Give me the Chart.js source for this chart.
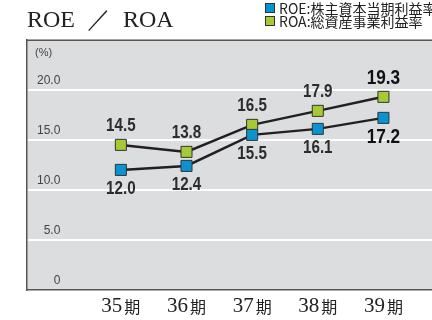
<!DOCTYPE html>
<html><head><meta charset="utf-8">
<script src="https://cdn.jsdelivr.net/npm/chart.js@4/dist/chart.umd.min.js"></script>
<style>html,body{margin:0;padding:0;background:#fff}#wrap{width:432px;height:320px}</style>
</head><body><div id="wrap"><canvas id="c" width="432" height="320"></canvas></div>
<script>
const periods = ['35', '36', '37', '38', '39'];
const periodSuffix = '期';
const roe = [12.0, 12.4, 15.5, 16.1, 17.2];
const roa = [14.5, 13.8, 16.5, 17.9, 19.3];
const seriesNames = ['ROE:株主資本当期利益率', 'ROA:総資産事業利益率'];
const seriesColors = ['#0a93d1', '#a6c936'];
const yTicks = [0, 5, 10, 15, 20];
const yTickLabels = ['0', '5.0', '10.0', '15.0', '20.0'];
const yUnit = '(%)';
const titleText = 'ROE  ／  ROA';

const toPoints = arr => arr.map((v, i) => ({x: i, y: v}));

const decor = {
  id: 'decor',
  beforeDraw(chart) {
    const {ctx, chartArea: a} = chart;
    ctx.save();
    ctx.fillStyle = '#dcdddf';
    ctx.fillRect(a.left, a.top, a.right - a.left, a.bottom - a.top);
    ctx.restore();
  },
  afterDraw(chart) {
    const {ctx, chartArea: a} = chart;
    const xs = chart.scales.x;
    ctx.save();
    // top border
    ctx.strokeStyle = '#555';
    ctx.lineWidth = 1.5;
    ctx.beginPath();
    ctx.moveTo(a.left, a.top + 0.5);
    ctx.lineTo(a.right, a.top + 0.5);
    ctx.stroke();
    // unit
    ctx.fillStyle = '#444';
    ctx.font = '11px "Liberation Sans", Arial, sans-serif';
    ctx.textBaseline = 'middle';
    ctx.textAlign = 'left';
    ctx.fillText(yUnit, a.left + 8, a.top + 13);
    // x labels
    periods.forEach((p, i) => {
      const px = xs.getPixelForValue(i);
      ctx.font = '21px "Liberation Serif", "Times New Roman", serif';
      const w1 = ctx.measureText(p).width;
      ctx.font = '16px "Noto Sans CJK JP", sans-serif';
      const w2 = ctx.measureText(periodSuffix).width;
      const gap = 2;
      let x0 = px - (w1 + gap + w2) / 2;
      ctx.textAlign = 'left';
      ctx.textBaseline = 'alphabetic';
      ctx.fillStyle = '#222';
      ctx.font = '21px "Liberation Serif", "Times New Roman", serif';
      ctx.fillText(p, x0, 312);
      ctx.font = '16px "Noto Sans CJK JP", sans-serif';
      ctx.fillText(periodSuffix, x0 + w1 + gap, 313);
    });
    // data labels (condensed)
    const last = periods.length - 1;
    chart.data.datasets.forEach((ds, d) => {
      const meta = chart.getDatasetMeta(d);
      meta.data.forEach((pt, i) => {
        const v = ds.data[i].y;
        const isLast = i === last;
        ctx.font = (isLast ? 'bold 21px' : 'bold 19px') + ' "Liberation Sans", Arial, sans-serif';
        ctx.fillStyle = isLast ? '#111' : '#2c2c2c';
        ctx.textAlign = 'center';
        ctx.textBaseline = 'middle';
        const dy = d === 1 ? -19 : 19;
        ctx.save();
        ctx.translate(pt.x, pt.y + dy);
        ctx.scale(isLast ? 0.82 : 0.8, 1);
        ctx.fillText(v.toFixed(1), 0, 0);
        ctx.restore();
      });
    });
    // legend
    chart.data.datasets.forEach((ds, d) => {
      const y = 3 + d * 13;
      ctx.fillStyle = ds.pointBackgroundColor;
      ctx.fillRect(265, y, 10, 10);
      ctx.strokeStyle = '#333';
      ctx.lineWidth = 1;
      ctx.strokeRect(265.5, y + 0.5, 9, 9);
      ctx.fillStyle = '#222';
      ctx.font = '14px "Noto Sans CJK JP", sans-serif';
      ctx.textAlign = 'left';
      ctx.textBaseline = 'middle';
      ctx.fillText(ds.label, 279, y + 5.5);
    });
    ctx.restore();
  }
};

new Chart(document.getElementById('c'), {
  type: 'line',
  data: {
    datasets: [
      {label: seriesNames[0], data: toPoints(roe), borderColor: '#231f20', borderWidth: 2.5,
       pointStyle: 'rect', pointRadius: 7.8, pointBackgroundColor: seriesColors[0],
       pointBorderColor: '#333', pointBorderWidth: 1, tension: 0, clip: false},
      {label: seriesNames[1], data: toPoints(roa), borderColor: '#231f20', borderWidth: 2.5,
       pointStyle: 'rect', pointRadius: 7.8, pointBackgroundColor: seriesColors[1],
       pointBorderColor: '#333', pointBorderWidth: 1, tension: 0, clip: false}
    ]
  },
  options: {
    responsive: false,
    devicePixelRatio: 1,
    animation: false,
    layout: {autoPadding: false, padding: {left: 27, right: 0, top: 0, bottom: 30}},
    plugins: {
      legend: {display: false},
      tooltip: {enabled: false},
      title: {display: true, text: titleText, align: 'start', color: '#222',
        font: {family: '"Liberation Serif", "Times New Roman", serif', size: 24, weight: 'normal'},
        padding: {top: 6, bottom: 5}}
    },
    scales: {
      x: {
        type: 'linear', min: -1.43, max: 4.74,
        afterBuildTicks: s => { s.ticks = periods.map((_, i) => ({value: i})); },
        afterFit: s => { s.height = 0; s.paddingLeft = 0; s.paddingRight = 0; },
        ticks: {display: false},
        grid: {display: false, drawTicks: false},
        border: {display: true, color: '#555', width: 1.5}
      },
      y: {
        min: 0, max: 25,
        afterBuildTicks: s => { s.ticks = yTicks.map(v => ({value: v})); },
        afterFit: s => { s.width = 0; s.paddingTop = 0; s.paddingBottom = 0; },
        ticks: {mirror: true, crossAlign: 'far', padding: 10, labelOffset: -9, color: '#444',
          font: {family: '"Liberation Sans", Arial, sans-serif', size: 12},
          callback: v => yTickLabels[yTicks.indexOf(v)]},
        grid: {color: c => (c.tick && c.tick.value === 0) ? 'rgba(0,0,0,0)' : '#ffffff', lineWidth: 2, drawTicks: false},
        border: {display: true, color: '#555', width: 1.5}
      }
    }
  },
  plugins: [decor]
});
</script>
</body></html>
